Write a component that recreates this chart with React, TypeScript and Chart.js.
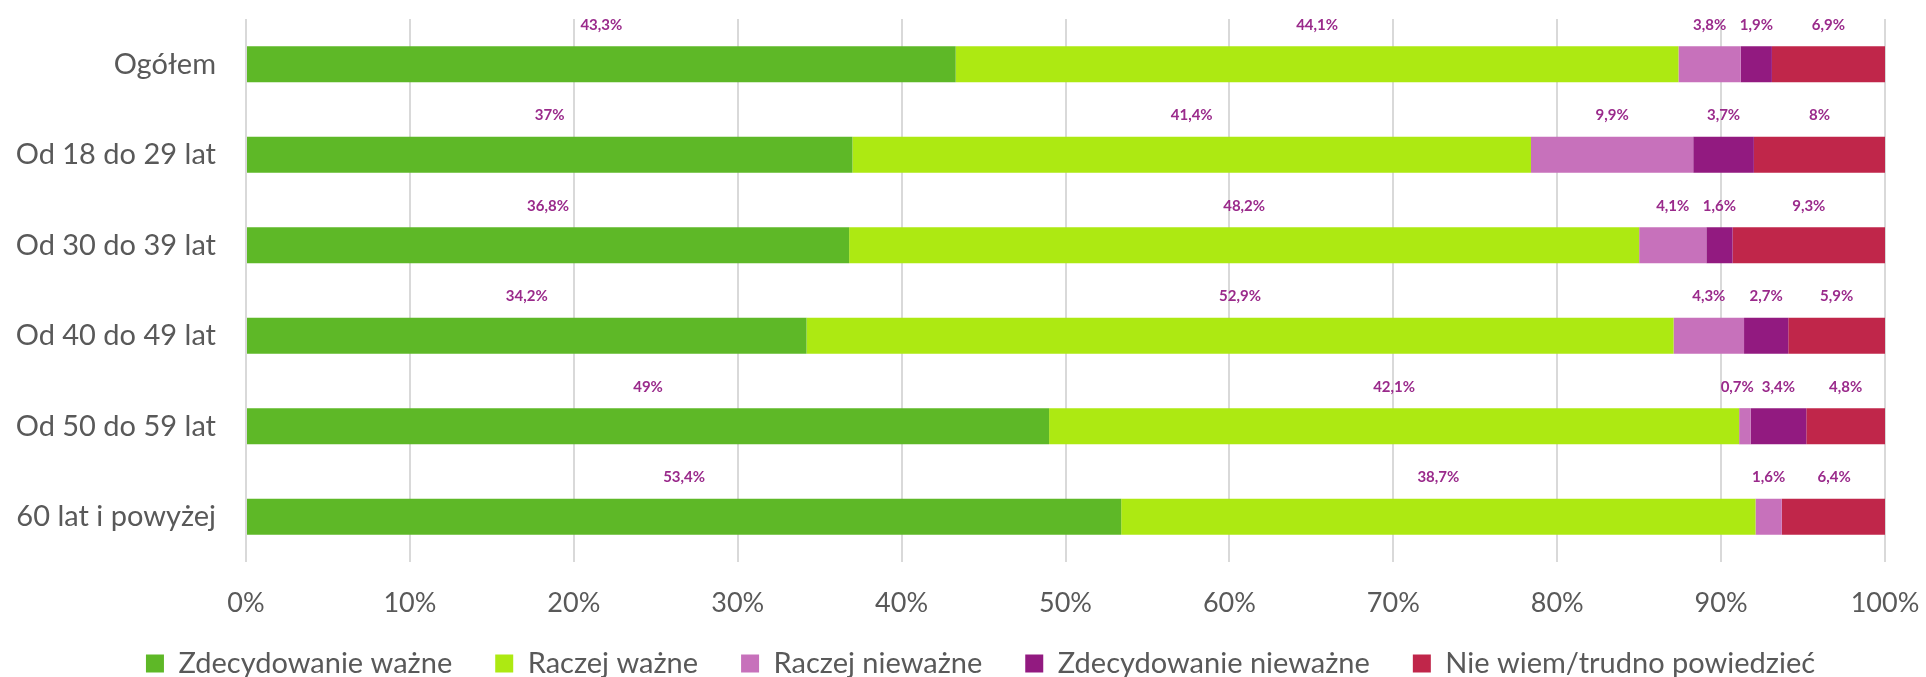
import { useEffect, useRef } from "react";
import { Chart, registerables } from "chart.js";

Chart.register(...registerables);

const categories = [
  "Ogółem",
  "Od 18 do 29 lat",
  "Od 30 do 39 lat",
  "Od 40 do 49 lat",
  "Od 50 do 59 lat",
  "60 lat i powyżej",
];

const seriesNames = [
  "Zdecydowanie ważne",
  "Raczej ważne",
  "Raczej nieważne",
  "Zdecydowanie nieważne",
  "Nie wiem/trudno powiedzieć",
];

const zdecydowanieWazne = [43.3, 37, 36.8, 34.2, 49, 53.4];
const raczejWazne = [44.1, 41.4, 48.2, 52.9, 42.1, 38.7];
const raczejNiewazne = [3.8, 9.9, 4.1, 4.3, 0.7, 1.6];
const zdecydowanieNiewazne: (number | null)[] = [1.9, 3.7, 1.6, 2.7, 3.4, null];
const nieWiem = [6.9, 8, 9.3, 5.9, 4.8, 6.4];

const seriesColors = ["#5EB827", "#ADE912", "#C771BB", "#921A80", "#C0264A"];

const xTickStep = 10;
const xMin = 0;
const xMax = 100;

const FONT = "Lato, 'Open Sans', sans-serif";
const TEXT = "#595959";

const fmt = (v: number) => String(v).replace(".", ",") + "%";

const labelPlugin = {
  id: "segLabels",
  afterDatasetsDraw(chart: any) {
    const ctx = chart.ctx;
    ctx.save();
    ctx.font = `bold 15px ${FONT}`;
    ctx.fillStyle = "#9A2A8B";
    ctx.textAlign = "center";
    ctx.textBaseline = "middle";
    const n = chart.data.labels.length;
    for (let j = 0; j < n; j++) {
      // collect labels of one row, then push apart overlapping neighbours
      const items: { text: string; x: number; y: number; w: number }[] = [];
      chart.data.datasets.forEach((ds: any, i: number) => {
        const v = ds.data[j];
        if (v == null) return;
        const el = chart.getDatasetMeta(i).data[j];
        const p = el.getProps(["x", "base", "y", "height"], true);
        const text = fmt(v);
        items.push({
          text,
          x: (p.x + p.base) / 2,
          y: p.y - p.height / 2 - 21,
          w: ctx.measureText(text).width,
        });
      });
      for (let k = items.length - 2; k >= 0; k--) {
        const a = items[k];
        const b = items[k + 1];
        const minGap = (a.w + b.w) / 2 + 8;
        if (b.x - a.x < minGap) a.x = b.x - minGap;
      }
      items.forEach((it) => ctx.fillText(it.text, it.x, it.y));
    }
    ctx.restore();
  },
};

const legendShift = {
  id: "legendShift",
  afterLayout(chart: any) {
    const lg = chart.legend;
    if (!lg) return;
    const dx = 38;
    const dy = -20;
    lg.left += dx;
    lg.right += dx;
    lg.top += dy;
    lg.bottom += dy;
  },
};

export default function App() {
  const ref = useRef<HTMLCanvasElement | null>(null);

  useEffect(() => {
    document.body.style.margin = "0";
    if (!ref.current) return;
    const values = [
      zdecydowanieWazne,
      raczejWazne,
      raczejNiewazne,
      zdecydowanieNiewazne,
      nieWiem,
    ];
    const chart = new Chart(ref.current, {
      type: "bar",
      data: {
        labels: categories,
        datasets: seriesNames.map((name, i) => ({
          label: name,
          data: values[i],
          backgroundColor: seriesColors[i],
          borderWidth: 0,
          barPercentage: 0.4,
          categoryPercentage: 1.0,
        })),
      },
      options: {
        indexAxis: "y",
        responsive: false,
        animation: false,
        layout: { padding: { top: 19, right: 41, left: 0, bottom: -31 } },
        scales: {
          x: {
            stacked: true,
            min: xMin,
            max: xMax,
            ticks: {
              stepSize: xTickStep,
              callback: (v: any) => v + "%",
              color: TEXT,
              font: { family: FONT, size: 27 },
              padding: 25,
            },
            grid: { color: "#D9D9D9", lineWidth: 2, drawTicks: false },
            border: { display: false },
            afterFit: (s: any) => {
              s.height = 64;
              s.paddingLeft = 0;
              s.paddingRight = 0;
            },
          },
          y: {
            stacked: true,
            ticks: {
              color: TEXT,
              font: { family: FONT, size: 29 },
              padding: 30,
            },
            grid: { display: false, drawTicks: false },
            border: { display: false },
            afterFit: (s: any) => {
              s.width = 246;
              s.paddingTop = 0;
              s.paddingBottom = 0;
            },
          },
        },
        plugins: {
          legend: {
            position: "bottom",
            labels: {
              boxWidth: 18,
              boxHeight: 18,
              padding: 43,
              color: TEXT,
              font: { family: FONT, size: 29 },
            },
          },
          tooltip: { enabled: false },
        },
      } as any,
      plugins: [labelPlugin, legendShift],
    });
    return () => chart.destroy();
  }, []);

  return (
    <div style={{ width: 1926, height: 677, position: "relative", overflow: "hidden" }}>
      <canvas ref={ref} width={1926} height={677} style={{ display: "block" }} />
    </div>
  );
}
